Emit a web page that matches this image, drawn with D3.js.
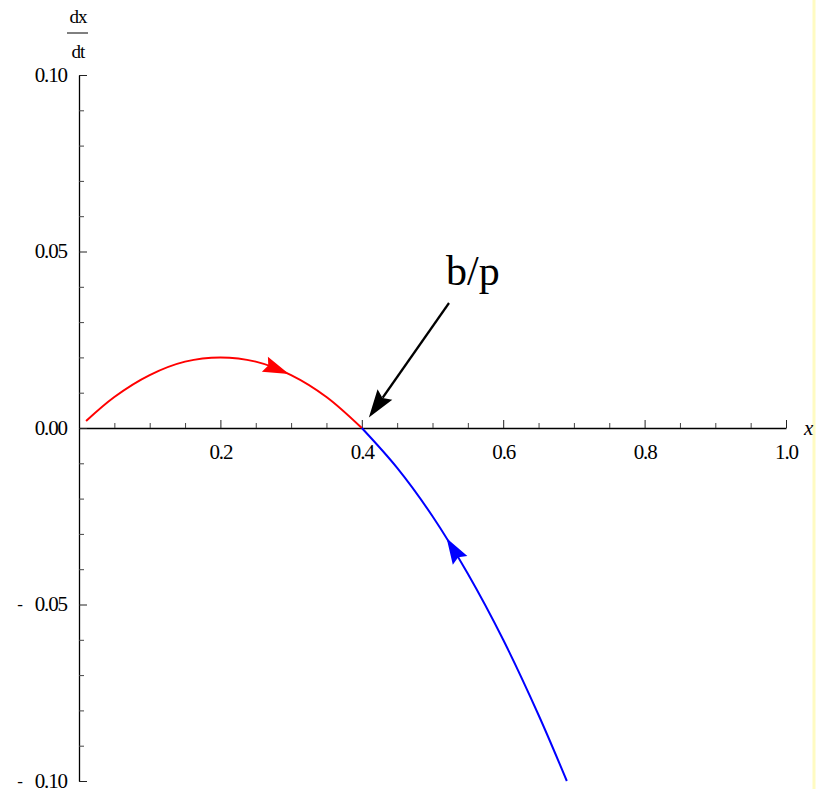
<!DOCTYPE html>
<html>
<head>
<meta charset="utf-8">
<script src="https://cdn.jsdelivr.net/npm/d3@7"></script>
<style>
  html, body { margin: 0; padding: 0; background: #fff; }
  svg { display: block; }
  text { font-family: "Liberation Serif", "Times New Roman", serif; fill: #000; }
</style>
</head>
<body>
<svg id="chart" width="821" height="789"></svg>
<script>
// Phase line of dx/dt against x: growth branch (red) and decline branch (blue)
const redX  = [0.01, 0.05, 0.10, 0.15, 0.20, 0.25, 0.30, 0.35, 0.40];
const redY  = [0.0020, 0.0088, 0.0150, 0.0188, 0.0200, 0.0188, 0.0150, 0.0088, 0.0];
const blueX = [0.40, 0.45, 0.50, 0.55, 0.60, 0.65, 0.69];
const blueY = [0.0, -0.0113, -0.0250, -0.0413, -0.0600, -0.0813, -0.1000];

const xMajorTicks = [0.2, 0.4, 0.6, 0.8, 1.0];
const xMajorLabels = ["0.2", "0.4", "0.6", "0.8", "1.0"];
const xMinorTicks = [0.05, 0.10, 0.15, 0.25, 0.30, 0.35, 0.45, 0.50, 0.55, 0.65, 0.70, 0.75, 0.85, 0.90, 0.95];
const yMajorTicks = [-0.10, -0.05, 0.00, 0.05, 0.10];
const yMajorLabels = ["0.10", "0.05", "0.00", "0.05", "0.10"];
const yMinorTicks = [-0.09, -0.08, -0.07, -0.06, -0.04, -0.03, -0.02, -0.01,
                     0.01, 0.02, 0.03, 0.04, 0.06, 0.07, 0.08, 0.09];

// direction arrows along each branch (x position of the tip)
const redArrowAt = 0.297;
const blueArrowAt = 0.52;
// annotation for the equilibrium point
const annotText = "b/p";
const annotPoint = [0.41, 0.003];

const svg = d3.select("#chart");

svg.append("line")
  .attr("x1", 814).attr("x2", 814).attr("y1", 0).attr("y2", 789)
  .attr("stroke", "#fffbc2").attr("stroke-width", 3);

const x = d3.scaleLinear().domain([0, 1]).range([79, 786]);
const y = d3.scaleLinear().domain([-0.1, 0.1]).range([781, 75]);

// x axis (on y = 0), ticks pointing up
const xAxisG = svg.append("g").attr("transform", `translate(0,${y(0)})`);
xAxisG.call(d3.axisBottom(x).tickValues(xMajorTicks)
  .tickFormat((d, i) => xMajorLabels[i])
  .tickSizeInner(-8).tickSizeOuter(0).tickPadding(26));
xAxisG.select(".domain").attr("stroke", "#000").attr("stroke-width", 1.3);
xAxisG.selectAll(".tick line").attr("stroke", "#222");
xAxisG.selectAll(".tick text")
  .attr("font-size", 21).attr("letter-spacing", "-1.1px")
  .attr("font-family", "Liberation Serif, serif").attr("dy", "0.22em");

const xMinorG = svg.append("g").attr("transform", `translate(0,${y(0)})`);
xMinorG.call(d3.axisBottom(x).tickValues(xMinorTicks).tickFormat("")
  .tickSizeInner(-5).tickSizeOuter(0));
xMinorG.select(".domain").remove();
xMinorG.selectAll(".tick line").attr("stroke", "#444");

// y axis (on x = 0), ticks pointing right
const yAxisG = svg.append("g").attr("transform", `translate(${x(0)},0)`);
yAxisG.call(d3.axisLeft(y).tickValues(yMajorTicks)
  .tickFormat((d, i) => yMajorLabels[i])
  .tickSizeInner(-8).tickSizeOuter(0).tickPadding(12));
yAxisG.select(".domain").attr("stroke", "#000").attr("stroke-width", 1.3);
yAxisG.selectAll(".tick line").attr("stroke", "#222");
yAxisG.selectAll(".tick text")
  .attr("font-size", 21).attr("letter-spacing", "-1.1px")
  .attr("font-family", "Liberation Serif, serif").attr("dy", "0.3em");
// separate minus sign for negative tick values
yAxisG.selectAll(".tick").filter(d => d < 0)
  .append("text")
  .attr("x", -59).attr("dy", "0.3em")
  .attr("text-anchor", "middle")
  .attr("font-size", 17)
  .text("-");

const yMinorG = svg.append("g").attr("transform", `translate(${x(0)},0)`);
yMinorG.call(d3.axisLeft(y).tickValues(yMinorTicks).tickFormat("")
  .tickSizeInner(-5).tickSizeOuter(0));
yMinorG.select(".domain").remove();
yMinorG.selectAll(".tick line").attr("stroke", "#444");

// axis titles
const fracX = 78;
svg.append("text").attr("x", fracX).attr("y", 23).attr("text-anchor", "middle")
  .attr("font-size", 19).attr("letter-spacing", "-0.9px").text("dx");
svg.append("line").attr("x1", 67).attr("x2", 88).attr("y1", 33).attr("y2", 33)
  .attr("stroke", "#000").attr("stroke-width", 1);
svg.append("text").attr("x", fracX).attr("y", 58).attr("text-anchor", "middle")
  .attr("font-size", 19).attr("letter-spacing", "-0.9px").text("dt");
svg.append("text").attr("x", 804).attr("y", 435)
  .attr("font-size", 21).attr("font-style", "italic").text("x");

// branches
const line = d3.line().x(d => x(d[0])).y(d => y(d[1])).curve(d3.curveCatmullRom.alpha(0.5));
const redPath = svg.append("path")
  .attr("d", line(d3.zip(redX, redY)))
  .attr("fill", "none").attr("stroke", "#ff0000").attr("stroke-width", 2);
const bluePath = svg.append("path")
  .attr("d", line(d3.zip(blueX, blueY)))
  .attr("fill", "none").attr("stroke", "#0000ff").attr("stroke-width", 2);

// arrowhead along a path, tip at the given x, pointing toward increasing (+1) or decreasing (-1) x
function pathArrow(pathSel, atX, dir, color, len, half) {
  const node = pathSel.node();
  const total = node.getTotalLength();
  const px = x(atX);
  let lo = 0, hi = total;
  for (let k = 0; k < 40; k++) {
    const mid = (lo + hi) / 2;
    if (node.getPointAtLength(mid).x < px) lo = mid; else hi = mid;
  }
  const tip = node.getPointAtLength(lo);
  const back = node.getPointAtLength(Math.max(0, Math.min(total, lo - dir * len)));
  let ux = tip.x - back.x, uy = tip.y - back.y;
  const n = Math.hypot(ux, uy); ux /= n; uy /= n;
  const bx = tip.x - ux * len, by = tip.y - uy * len;
  const nx = -uy, ny = ux;
  const notchX = tip.x - ux * len * 0.86, notchY = tip.y - uy * len * 0.86;
  svg.append("path")
    .attr("d", `M${tip.x},${tip.y}L${bx + nx * half},${by + ny * half}L${notchX},${notchY}L${bx - nx * half},${by - ny * half}Z`)
    .attr("fill", color);
}
pathArrow(redPath, redArrowAt, 1, "#ff0000", 26, 8);
pathArrow(bluePath, blueArrowAt, -1, "#0000ff", 26, 8.5);

// annotation arrow pointing at the equilibrium
const tipX = x(annotPoint[0]), tipY = y(annotPoint[1]);
const startX = 449, startY = 303;
let ax = tipX - startX, ay = tipY - startY;
const an = Math.hypot(ax, ay); ax /= an; ay /= an;
const aLen = 28, aHalf = 9;
const abx = tipX - ax * aLen, aby = tipY - ay * aLen;
svg.append("line")
  .attr("x1", startX).attr("y1", startY)
  .attr("x2", abx + ax * 4).attr("y2", aby + ay * 4)
  .attr("stroke", "#000").attr("stroke-width", 2.2);
svg.append("path")
  .attr("d", `M${tipX},${tipY}L${abx - ay * aHalf},${aby + ax * aHalf}L${tipX - ax * aLen * 0.85},${tipY - ay * aLen * 0.85}L${abx + ay * aHalf},${aby - ax * aHalf}Z`)
  .attr("fill", "#000");
svg.append("text").attr("x", 446).attr("y", 285)
  .attr("font-size", 42).text(annotText);
</script>
</body>
</html>
